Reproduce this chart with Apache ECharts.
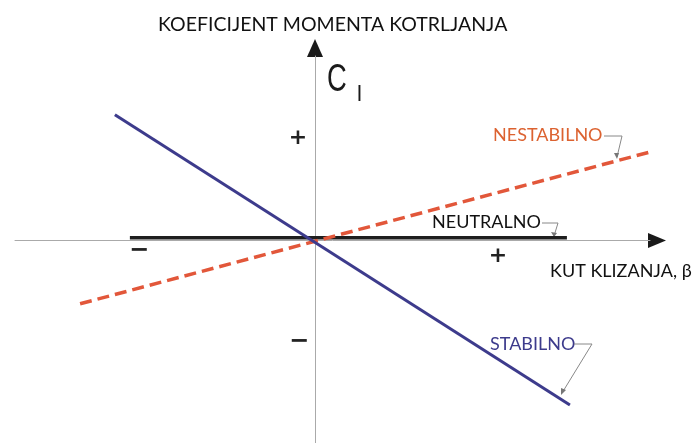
<!DOCTYPE html>
<html>
<head>
<meta charset="utf-8">
<script src="https://cdn.jsdelivr.net/npm/echarts@6/dist/echarts.min.js"></script>
<style>
html, body { margin: 0; padding: 0; background: #fff; }
#main { width: 696px; height: 443px; }
</style>
</head>
<body>
<div id="main"></div>
<script>
// kut klizanja (beta) i koeficijent momenta kotrljanja (Cl), proizvoljne jedinice
var betaRange = [-10, 11.17];
var clRange = [-6.77, 6.13];

// krajnje tocke pravaca [beta, Cl]
var stabilno = [[-6.67, 4.17], [8.5, -5.5]];
var nestabilno = [[-7.83, -2.13], [11.17, 2.93]];
var neutralno = [[-6.17, 0.07], [8.4, 0.07]];

var labelFont = 'Lato';

var chart = echarts.init(document.getElementById('main'));
chart.setOption({
    animation: false,
    title: {
        text: 'KOEFICIJENT MOMENTA KOTRLJANJA',
        left: 153,
        top: 10,
        textStyle: {
            fontFamily: labelFont,
            fontSize: 19.5,
            fontWeight: 'normal',
            color: '#111'
        }
    },
    grid: {
        left: 15,
        right: 46,
        top: 56,
        bottom: 0
    },
    xAxis: {
        type: 'value',
        min: betaRange[0],
        max: betaRange[1],
        axisLine: { onZero: true, lineStyle: { color: '#aaa', width: 1 } },
        axisTick: { show: false },
        axisLabel: { show: false },
        splitLine: { show: false }
    },
    yAxis: {
        type: 'value',
        min: clRange[0],
        max: clRange[1],
        axisLine: { onZero: true, lineStyle: { color: '#aaa', width: 1 } },
        axisTick: { show: false },
        axisLabel: { show: false },
        splitLine: { show: false }
    },
    series: [
        {
            name: 'NEUTRALNO',
            type: 'line',
            data: neutralno,
            symbol: 'none',
            silent: true,
            lineStyle: { color: '#1e1e1e', width: 3.5 }
        },
        {
            name: 'NESTABILNO',
            type: 'line',
            data: nestabilno,
            symbol: 'none',
            silent: true,
            lineStyle: { color: '#e2573a', width: 3.5, type: [12, 6] }
        },
        {
            name: 'STABILNO',
            type: 'line',
            data: stabilno,
            symbol: 'none',
            silent: true,
            lineStyle: { color: '#3d3b8c', width: 3 }
        }
    ],
    graphic: [
        // strelice osi
        { type: 'polygon', shape: { points: [[648, 233], [666, 240.5], [648, 248]] }, style: { fill: '#1a1a1a' } },
        { type: 'polygon', shape: { points: [[307, 57], [315, 39], [323, 57]] }, style: { fill: '#1a1a1a' } },
        // oznaka osi Cl
        { type: 'text', x: 327, y: 62, scaleX: 0.72, style: { text: 'C', fontFamily: 'Liberation Sans', fontSize: 38, fill: '#1a1a1a' } },
        { type: 'text', x: 357, y: 84, style: { text: 'l', fontFamily: 'Liberation Sans', fontSize: 22, fill: '#1a1a1a' } },
        { type: 'text', x: 550, y: 262, style: { text: 'KUT KLIZANJA, β', fontFamily: labelFont, fontSize: 18, fill: '#111' } },
        // predznaci
        { type: 'text', x: 298, y: 138, style: { text: '+', fontFamily: 'DejaVu Sans', fontWeight: 'bold', fontSize: 22, fill: '#222', align: 'center', verticalAlign: 'middle' } },
        { type: 'text', x: 498, y: 256, style: { text: '+', fontFamily: 'DejaVu Sans', fontWeight: 'bold', fontSize: 22, fill: '#222', align: 'center', verticalAlign: 'middle' } },
        { type: 'text', x: 299, y: 342, style: { text: '−', fontFamily: 'DejaVu Sans', fontWeight: 'bold', fontSize: 24, fill: '#222', align: 'center', verticalAlign: 'middle' } },
        { type: 'text', x: 139, y: 251, style: { text: '−', fontFamily: 'DejaVu Sans', fontWeight: 'bold', fontSize: 24, fill: '#222', align: 'center', verticalAlign: 'middle' } },
        // nazivi pravaca
        { type: 'text', x: 493, y: 126, style: { text: 'NESTABILNO', fontFamily: labelFont, fontSize: 18, fill: '#dc6230' } },
        { type: 'text', x: 432, y: 213, style: { text: 'NEUTRALNO', fontFamily: labelFont, fontSize: 18, fill: '#111' } },
        { type: 'text', x: 490, y: 335, style: { text: 'STABILNO', fontFamily: labelFont, fontSize: 18, fill: '#3d3b8c' } },
        // pokazne linije
        { type: 'polyline', shape: { points: [[604, 136], [622, 136], [617, 157]] }, style: { stroke: '#888', lineWidth: 1, fill: null } },
        { type: 'polygon', shape: { points: [[614, 153], [617, 159], [619, 153]] }, style: { fill: '#777' } },
        { type: 'polyline', shape: { points: [[542, 223], [558, 223], [554, 236]] }, style: { stroke: '#888', lineWidth: 1, fill: null } },
        { type: 'polygon', shape: { points: [[551, 232], [554, 237], [557, 233]] }, style: { fill: '#777' } },
        { type: 'polyline', shape: { points: [[574, 344], [592, 344], [562, 393]] }, style: { stroke: '#888', lineWidth: 1, fill: null } },
        { type: 'polygon', shape: { points: [[561, 388], [561, 395], [566, 390]] }, style: { fill: '#777' } }
    ]
});
</script>
</body>
</html>
